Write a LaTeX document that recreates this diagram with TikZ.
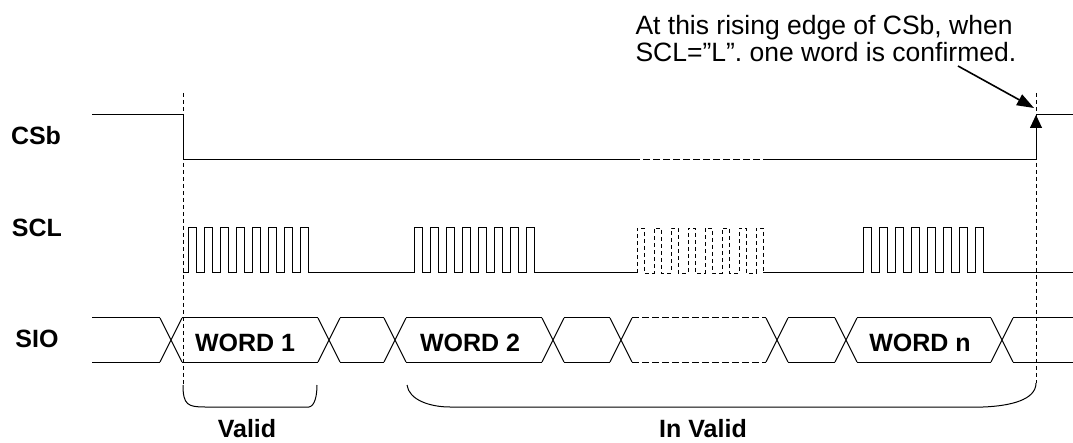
\documentclass[tikz,border=0pt]{standalone}
\usepackage{fontspec}
\setmainfont{Liberation Sans}
\usetikzlibrary{arrows.meta}

\begin{document}
\begin{tikzpicture}[x=1pt,y=-1pt,line width=1pt,
    guide/.style={dash pattern=on 4pt off 3pt,line width=0.9pt},
    dimpart/.style={dash pattern=on 7pt off 3pt},
    lbl/.style={font=\fontsize{25}{27}\selectfont\bfseries,inner sep=0pt,anchor=base},
    remarktext/.style={font=\fontsize{26.5}{27}\selectfont,inner sep=0pt,anchor=north west,align=left}]
    \path[fill=white] (0,0) rectangle (1073,443);
    \useasboundingbox (0,0) rectangle (1073,443);

    % signal names
    \node[lbl] (csb) at (36,145) {CSb};
    \node[lbl] (scl) at (37,237) {SCL};
    \node[lbl] (sio) at (37,348) {SIO};

    % CSb
    \draw (92,115) -- (183,115) -- (183,160) -- (633,160);
    \draw[dimpart] (633,160) -- (766,160);
    \draw (766,160) -- (1036,160);
    \draw[-{Triangle[length=13pt,width=12pt]}] (1036,160) -- (1036,115);
    \draw (1036,115) -- (1073,115);

    % SCL
    \draw (183,273) -- (188,273);
    \draw (308,273) -- (414,273);
    \draw (534,273) -- (637,273);
    \draw (763,273) -- (863,273);
    \draw (983,273) -- (1073,273);
    \draw (188,273) \foreach \k [evaluate=\k as \x using 188+16*\k] in {0,...,7}
        { -- (\x,273) -- (\x,228) -- (\x+8,228) -- (\x+8,273) } -- (308,273);
    \draw (414,273) \foreach \k [evaluate=\k as \x using 414+16*\k] in {0,...,7}
        { -- (\x,273) -- (\x,228) -- (\x+8,228) -- (\x+8,273) } -- (534,273);
    \draw[guide] (637,273) \foreach \k [evaluate=\k as \x using 637+17*\k] in {0,...,7}
        { -- (\x,273) -- (\x,228) -- (\x+7,228) -- (\x+7,273) } -- (763,273);
    \draw (863,273) \foreach \k [evaluate=\k as \x using 863+16*\k] in {0,...,7}
        { -- (\x,273) -- (\x,228) -- (\x+8,228) -- (\x+8,273) } -- (983,273);

    % SIO
    \foreach \c in {171,329,395,553,621,777,846,1002}
        \draw (\c-11,318) -- (\c+11,362) (\c-11,362) -- (\c+11,318);
    \foreach \a/\b in {92/160,182/318,340/384,406/542,564/610,788/835,857/991,1013/1073}
        \draw (\a,318) -- (\b,318) (\a,362) -- (\b,362);
    \draw[dimpart] (632,318) -- (766,318) (632,362) -- (766,362);
    \node[lbl] (w1) at (245,352) {WORD 1};
    \node[lbl] (w2) at (470,352) {WORD 2};
    \node[lbl] (wn) at (920,352) {WORD n};

    % guide lines and braces
    \draw[guide] (183,93) -- (183,385);
    \draw[guide] (1036,93) -- (1036,383);
    \draw (183,385) .. controls (183,405) and (188,407) .. (205,407) -- (309,407)
        .. controls (315,406) and (317,395) .. (317,385);
    \draw (407,385) .. controls (409,400) and (430,407) .. (450,407) -- (983,407)
        .. controls (1010,406) and (1036,400) .. (1036,383);
    \node[lbl] (valid) at (247,437) {Valid};
    \node[lbl] (invalid) at (703,437) {In Valid};

    % remark
    \node[remarktext] (remark) at (635,15) {At this rising edge of CSb, when\\SCL=”L”. one word is confirmed.};
    \coordinate (tail) at (958,66);
    \coordinate (rise) at (1034,108);
    \draw[line width=1.6pt,-{Triangle[length=17pt,width=12pt]}] (tail) -- (rise);
\end{tikzpicture}
\end{document}
